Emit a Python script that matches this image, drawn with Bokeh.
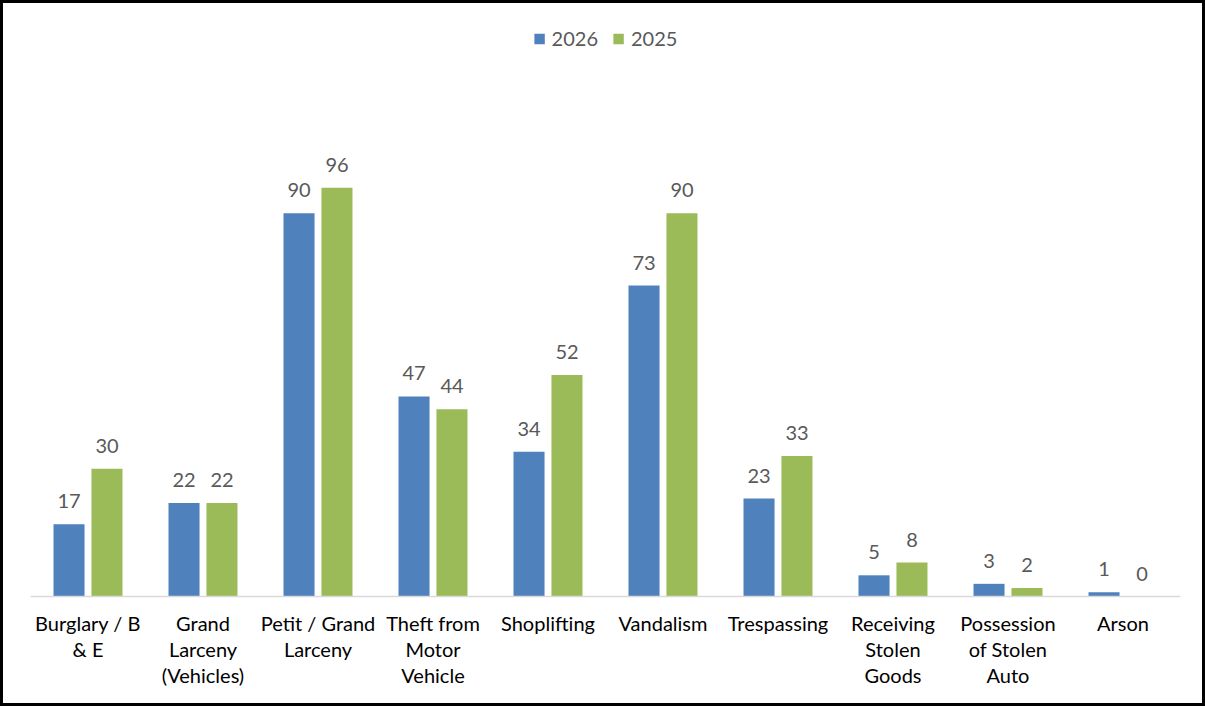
from bokeh.plotting import figure
from bokeh.models import ColumnDataSource, FactorRange, Range1d, Legend, LegendItem, LabelSet, Span
from bokeh.core.properties import value
from bokeh.transform import dodge
from bokeh.embed import file_html
from bokeh.resources import INLINE

categories = ["Burglary / B\n& E", "Grand\nLarceny\n(Vehicles)", "Petit / Grand\nLarceny",
              "Theft from\nMotor\nVehicle", "Shoplifting", "Vandalism", "Trespassing",
              "Receiving\nStolen\nGoods", "Possession\nof Stolen\nAuto", "Arson"]
values_2026 = [17, 22, 90, 47, 34, 73, 23, 5, 3, 1]
values_2025 = [30, 22, 96, 44, 52, 90, 33, 8, 2, 0]

FONT = "Lato"
BLUE = "#4F81BD"
GREEN = "#9BBB59"
GRAY = "#595959"

src = ColumnDataSource(dict(cat=categories, v26=values_2026, v25=values_2025,
                            t26=[str(v) for v in values_2026], t25=[str(v) for v in values_2025]))

p = figure(x_range=FactorRange(*categories, range_padding=0), y_range=Range1d(-26.5, 135.7),
           width=1205, height=706, output_backend="svg", toolbar_location=None,
           min_border_left=27, min_border_right=28, min_border_top=15, min_border_bottom=0)
p.styles = {"border": "3px solid black", "box-sizing": "border-box"}
p.outline_line_color = None
p.xgrid.grid_line_color = None
p.ygrid.grid_line_color = None
p.xaxis.visible = False
p.yaxis.visible = False

# category axis baseline
p.add_layout(Span(location=0, dimension="width", line_color="#D9D9D9", line_width=1.5))

r1 = p.vbar(x=dodge("cat", -0.165, range=p.x_range), top="v26", width=0.27, source=src,
            fill_color=BLUE, line_color=None)
r2 = p.vbar(x=dodge("cat", 0.165, range=p.x_range), top="v25", width=0.27, source=src,
            fill_color=GREEN, line_color=None)

for col, off in (("t26", -0.165), ("t25", 0.165)):
    ycol = "v26" if col == "t26" else "v25"
    lbl = LabelSet(x=dodge("cat", off, range=p.x_range), y=ycol, text=col, source=src,
                   text_align="center", text_baseline="middle", y_offset=23,
                   text_font=value(FONT), text_font_size=value("20px"), text_color=GRAY)
    p.add_layout(lbl)

# category labels, one LabelSet per line of the wrapped names
for i in range(3):
    cs, ts = [], []
    for c in categories:
        parts = c.split("\n")
        if i < len(parts):
            cs.append(c)
            ts.append(parts[i])
    s = ColumnDataSource(dict(cat=cs, txt=ts, y=[0] * len(cs)))
    p.add_layout(LabelSet(x="cat", y="y", text="txt", source=s, y_offset=-26 - 26 * i,
                          text_align="center", text_baseline="middle",
                          text_font=value(FONT), text_font_size=value("20px"),
                          text_color="#000000"))

legend = Legend(items=[LegendItem(label="2026", renderers=[r1]),
                       LegendItem(label="2025", renderers=[r2])],
                location="top_center", orientation="horizontal")
legend.border_line_color = None
legend.background_fill_alpha = 0
legend.label_text_font = FONT
legend.label_text_font_size = "20px"
legend.label_text_color = GRAY
legend.glyph_width = 13
legend.glyph_height = 13
legend.spacing = 14
legend.margin = 8
legend.padding = 10
legend.label_standoff = 6
p.add_layout(legend)

open("out.html", "w").write(file_html(p, INLINE))
